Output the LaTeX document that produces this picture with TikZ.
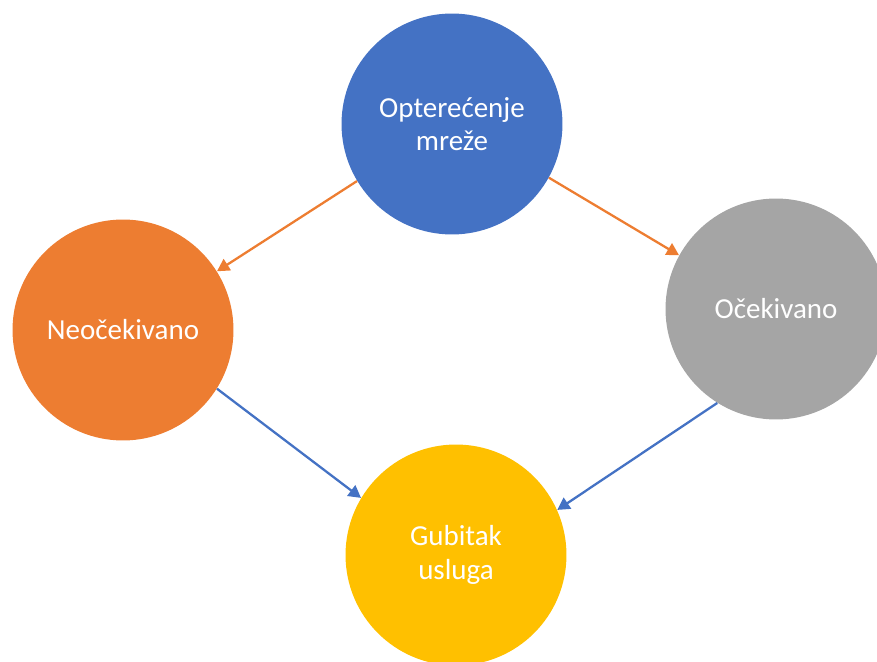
\documentclass[tikz,border=0pt]{standalone}
\usepackage{fontspec}
\setmainfont{Carlito}
\usetikzlibrary{arrows.meta}
\definecolor{netblue}{RGB}{68,114,196}
\definecolor{netorange}{RGB}{237,125,49}
\definecolor{netgray}{RGB}{165,165,165}
\definecolor{netyellow}{RGB}{255,192,0}
\tikzset{
  state/.style={circle, minimum size=4.42cm, inner sep=0pt, text=white,
    align=center, font=\fontsize{16.5}{19}\selectfont},
  flow/.style={line width=1.3pt, -{Triangle[length=7pt,width=7.5pt]}}
}
\begin{document}
\begin{tikzpicture}[x=0.02cm,y=-0.02cm]
  \useasboundingbox (0,0) rectangle (877,662);
  \node [state, fill=netblue] (load) at (452,124) {Opterećenje\\mreže};
  \node [state, fill=netorange] (unexp) at (123,330) {Neočekivano};
  \node [state, fill=netgray] (exp) at (776,309) {Očekivano};
  \node [state, fill=netyellow] (loss) at (456,555) {Gubitak\\usluga};

  \draw [flow, netorange] (load.211) -- (unexp.32);
  \draw [flow, netorange] (load.331) -- (exp.151);
  \draw [flow, netblue] (unexp.328) -- (loss.149);
  \draw [flow, netblue] (exp.238) -- (loss.24);
\end{tikzpicture}
\end{document}
